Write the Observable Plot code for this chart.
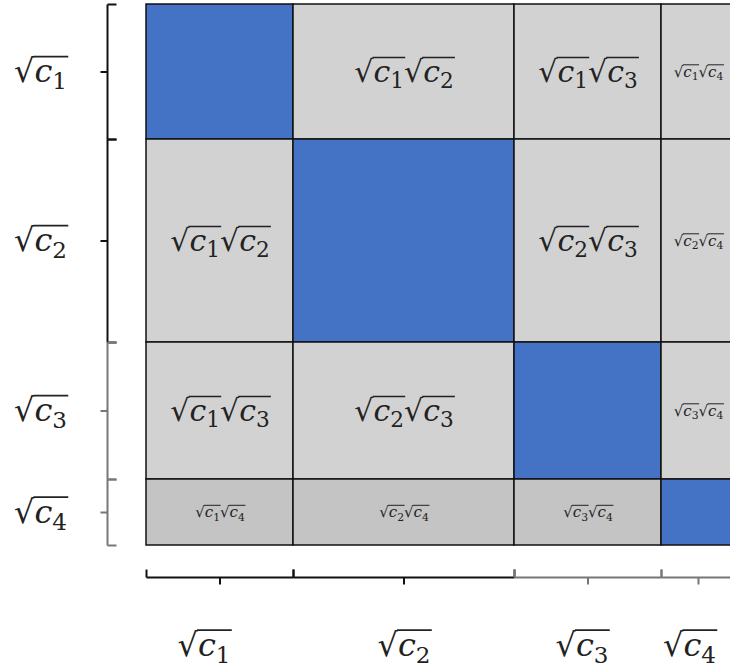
<!DOCTYPE html>
<html><head><meta charset="utf-8">
<script src="https://cdn.jsdelivr.net/npm/d3@7"></script>
<script src="https://cdn.jsdelivr.net/npm/@observablehq/plot@0.6"></script>
<style>body{margin:0;background:#fff}</style>
</head><body><div id="chart"></div>
<script>
// categories
const names = ["c1", "c2", "c3", "c4"];
// relative sizes (√c_i): column widths and row heights
const colSizes = [147, 221, 147, 74];
const rowSizes = [135, 203, 137, 66];
// bracket colours per category
const bracketColors = ["#111", "#111", "#777", "#777"];
// cell label font sizes per category (small when c4 involved)
const labelSizes = [30, 30, 30, 15];

const cum = a => a.reduce((acc, v) => (acc.push(acc[acc.length - 1] + v), acc), [0]);
const cx = cum(colSizes), cy = cum(rowSizes);

const cells = [];
for (let i = 0; i < 4; i++) for (let j = 0; j < 4; j++) {
  const a = Math.min(i, j), b = Math.max(i, j);
  cells.push({
    x1: cx[j], x2: cx[j + 1], y1: cy[i], y2: cy[i + 1],
    diag: i === j, row: i,
    label: i === j ? "" : `√${names[a]}√${names[b]}`,
    size: Math.min(labelSizes[i], labelSizes[j])
  });
}

const bx = -39, by = cy[4] + 32;
const links = [];
for (let k = 0; k < 4; k++) {
  const y0 = cy[k], y1 = cy[k + 1], ym = (y0 + y1) / 2, c = bracketColors[k];
  links.push({x1: bx, x2: bx, y1: y0, y2: y1, c});
  links.push({x1: bx, x2: bx + 9, y1: y0, y2: y0, c});
  links.push({x1: bx, x2: bx + 9, y1: y1, y2: y1, c});
  links.push({x1: bx - 7, x2: bx, y1: ym, y2: ym, c});
  const x0 = cx[k], x1 = cx[k + 1], xm = (x0 + x1) / 2;
  links.push({x1: x0, x2: x1, y1: by, y2: by, c});
  links.push({x1: x0, x2: x0, y1: by - 8, y2: by, c});
  links.push({x1: x1, x2: x1, y1: by - 8, y2: by, c});
  links.push({x1: xm, x2: xm, y1: by, y2: by + 7, c});
}
const bottomShift = [-16, 0, -6, -9];
const leftLabels = names.map((n, k) => ({x: -106, y: (cy[k] + cy[k + 1]) / 2, t: "√" + n}));
const bottomLabels = names.map((n, k) => ({x: (cx[k] + cx[k + 1]) / 2 + bottomShift[k], y: by + 68, t: "√" + n}));

const chart = Plot.plot({
  width: 730, height: 668,
  marginLeft: 0, marginRight: 0, marginTop: 0, marginBottom: 0,
  x: {type: "linear", domain: [0, cx[4]], range: [146, 146 + cx[4]], axis: null},
  y: {type: "linear", domain: [0, cy[4]], range: [4, 4 + cy[4]], axis: null},
  style: {fontFamily: "'DejaVu Serif', serif", background: "#fff"},
  marks: [
    Plot.rect(cells, {x1: "x1", x2: "x2", y1: "y1", y2: "y2",
      fill: d => d.diag ? "#4472C4" : (d.row === 3 ? "#c4c4c4" : "#d2d2d2"),
      stroke: "#111", strokeWidth: 1.5}),
    Plot.text(cells, {x: d => (d.x1 + d.x2) / 2, y: d => (d.y1 + d.y2) / 2, text: "label",
      fontSize: "size", fill: "#222", className: "mathlbl"}),
    Plot.link(links, {x1: "x1", x2: "x2", y1: "y1", y2: "y2", stroke: "c", strokeWidth: 2}),
    Plot.text(leftLabels, {x: "x", y: "y", text: "t", fontSize: 32, fill: "#222", className: "mathlbl"}),
    Plot.text(bottomLabels, {x: "x", y: "y", text: "t", fontSize: 32, fill: "#222", className: "mathlbl"})
  ]
});
document.getElementById("chart").append(chart);

// typeset √c_i pieces: italic c, subscript digit, and a vinculum over each radicand
chart.querySelectorAll("text").forEach(el => {
  const s = el.textContent;
  if (!s || s.indexOf("√") < 0) return;
  const fs = parseFloat(getComputedStyle(el).fontSize) || 20;
  const t = d3.select(el);
  t.text(null);
  const parts = s.split("√").filter(p => p);
  const sh = fs * 0.22;
  parts.forEach((p, i) => {
    t.append("tspan").attr("dy", i ? -sh : null).text("√");
    t.append("tspan").attr("font-style", "italic").text(p[0]);
    t.append("tspan").attr("font-size", fs * 0.72).attr("dy", sh).text(p.slice(1));
  });
  const parent = el.parentNode;
  const tf = el.getAttribute("transform");
  let idx = 0;
  parts.forEach(p => {
    const root = el.getStartPositionOfChar(idx);
    const a = el.getStartPositionOfChar(idx + 1);
    const b = el.getEndPositionOfChar(idx + p.length);
    const y = root.y - fs * 0.80;
    d3.select(parent).append("line")
      .attr("transform", tf)
      .attr("x1", a.x - fs * 0.03).attr("x2", b.x + fs * 0.04)
      .attr("y1", y).attr("y2", y)
      .attr("stroke", "#222").attr("stroke-width", Math.max(1, fs * 0.05));
    idx += 1 + p.length;
  });
});
</script>
</body></html>
